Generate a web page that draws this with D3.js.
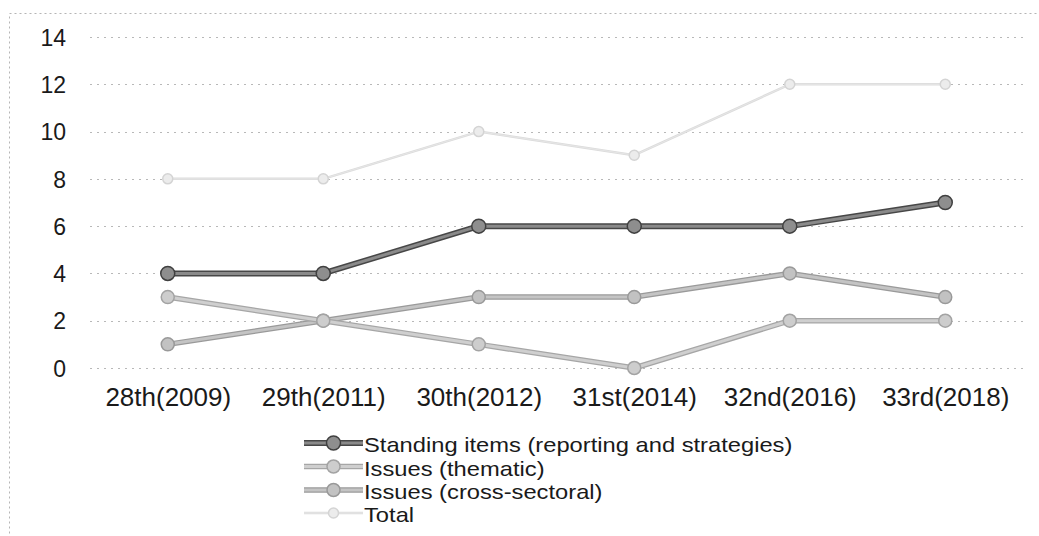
<!DOCTYPE html>
<html>
<head>
<meta charset="utf-8">
<script src="https://cdn.jsdelivr.net/npm/d3@7"></script>
<style>
  html, body { margin: 0; padding: 0; background: #fff; }
  svg { display: block; }
  text { font-family: "Liberation Sans", Arial, sans-serif; fill: #1a1a1a; }
</style>
</head>
<body>
<svg id="chart" width="1039" height="536"></svg>
<script>
// Sessions on the x axis
const sessions = ["28th(2009)", "29th(2011)", "30th(2012)", "31st(2014)", "32nd(2016)", "33rd(2018)"];

// Number of agenda items per session
const standingItems = [4, 4, 6, 6, 6, 7];
const issuesThematic = [3, 2, 1, 0, 2, 2];
const issuesCrossSectoral = [1, 2, 3, 3, 4, 3];
const totalItems = [8, 8, 10, 9, 12, 12];

const yTicks = [0, 2, 4, 6, 8, 10, 12, 14];

const seriesNames = [
  "Standing items (reporting and strategies)",
  "Issues (thematic)",
  "Issues (cross-sectoral)",
  "Total"
];

// Visual style per series: outer (edge) stroke, inner stroke, marker
const styles = [
  { edge: "#474747", edgeW: 6, core: "#8a8a8a", coreW: 3, r: 7, fill: "#8e8e8e", stroke: "#404040" },
  { edge: "#a6a6a6", edgeW: 5.5, core: "#cfcfcf", coreW: 3, r: 6.5, fill: "#cdcdcd", stroke: "#a3a3a3" },
  { edge: "#9a9a9a", edgeW: 5.5, core: "#c4c4c4", coreW: 3, r: 6.5, fill: "#c2c2c2", stroke: "#999999" },
  { edge: "#dcdcdc", edgeW: 2.5, core: "#e6e6e6", coreW: 1, r: 5, fill: "#ececec", stroke: "#d4d4d4" }
];

const seriesData = [standingItems, issuesThematic, issuesCrossSectoral, totalItems];

const svg = d3.select("#chart");

// Outer chart frame (dotted)
svg.append("rect")
  .attr("x", 9.5).attr("y", 13.5)
  .attr("width", 1040).attr("height", 540)
  .attr("fill", "none")
  .attr("stroke", "#b5b5b5")
  .attr("stroke-width", 1)
  .attr("stroke-dasharray", "2,3");

const x = d3.scalePoint().domain(sessions).range([90, 1023]).padding(0.5);
const y = d3.scaleLinear().domain([0, 14]).range([368, 37]);

// Horizontal gridlines
svg.append("g")
  .selectAll("line")
  .data(yTicks)
  .join("line")
  .attr("x1", 90).attr("x2", 1023)
  .attr("y1", d => Math.round(y(d)) + 0.5)
  .attr("y2", d => Math.round(y(d)) + 0.5)
  .attr("stroke", "#b8b8b8")
  .attr("stroke-width", 1)
  .attr("stroke-dasharray", "2,5");

// Y axis labels
const yAxis = d3.axisLeft(y).tickValues(yTicks).tickSize(0).tickPadding(0);
const gy = svg.append("g").attr("transform", "translate(66,0)").call(yAxis);
gy.select(".domain").remove();
gy.selectAll("text")
  .attr("font-size", "23px")
  .attr("font-family", "Liberation Sans, Arial, sans-serif")
  .attr("fill", "#1a1a1a")
  .attr("dy", "0.36em");

// X axis labels
const xAxis = d3.axisBottom(x).tickSize(0).tickPadding(0);
const gx = svg.append("g").attr("transform", "translate(0,388)").call(xAxis);
gx.select(".domain").remove();
gx.selectAll("text")
  .attr("font-size", "26px")
  .attr("font-family", "Liberation Sans, Arial, sans-serif")
  .attr("fill", "#1a1a1a")
  .attr("dy", "0.7em");

const line = d3.line()
  .x((d, i) => x(sessions[i]))
  .y(d => y(d));

// Draw series: Total first (behind), then the others
const drawOrder = [3, 2, 1, 0];
drawOrder.forEach(k => {
  const s = styles[k];
  const g = svg.append("g");
  g.append("path").datum(seriesData[k])
    .attr("d", line).attr("fill", "none")
    .attr("stroke", s.edge).attr("stroke-width", s.edgeW)
    .attr("stroke-linejoin", "round");
  g.append("path").datum(seriesData[k])
    .attr("d", line).attr("fill", "none")
    .attr("stroke", s.core).attr("stroke-width", s.coreW)
    .attr("stroke-linejoin", "round");
  g.selectAll("circle").data(seriesData[k]).join("circle")
    .attr("cx", (d, i) => x(sessions[i]))
    .attr("cy", d => y(d))
    .attr("r", s.r)
    .attr("fill", s.fill)
    .attr("stroke", s.stroke)
    .attr("stroke-width", 1.5);
});

// Legend (tight rows; text slightly stretched horizontally)
const legendX0 = 304, legendX1 = 363, legendTextX = 364;
const legendBaselines = [452, 475.5, 499, 522];
seriesNames.forEach((name, k) => {
  const s = styles[k];
  const cy = legendBaselines[k] - 9;
  const g = svg.append("g");
  g.append("line")
    .attr("x1", legendX0).attr("x2", legendX1)
    .attr("y1", cy).attr("y2", cy)
    .attr("stroke", s.edge).attr("stroke-width", s.edgeW);
  g.append("line")
    .attr("x1", legendX0).attr("x2", legendX1)
    .attr("y1", cy).attr("y2", cy)
    .attr("stroke", s.core).attr("stroke-width", s.coreW);
  g.append("circle")
    .attr("cx", (legendX0 + legendX1) / 2).attr("cy", cy)
    .attr("r", s.r)
    .attr("fill", s.fill).attr("stroke", s.stroke).attr("stroke-width", 1.5);
  g.append("text")
    .attr("transform", `translate(${legendTextX},${legendBaselines[k]}) scale(1.13,1)`)
    .attr("font-size", "21px")
    .text(name);
});
</script>
</body>
</html>
